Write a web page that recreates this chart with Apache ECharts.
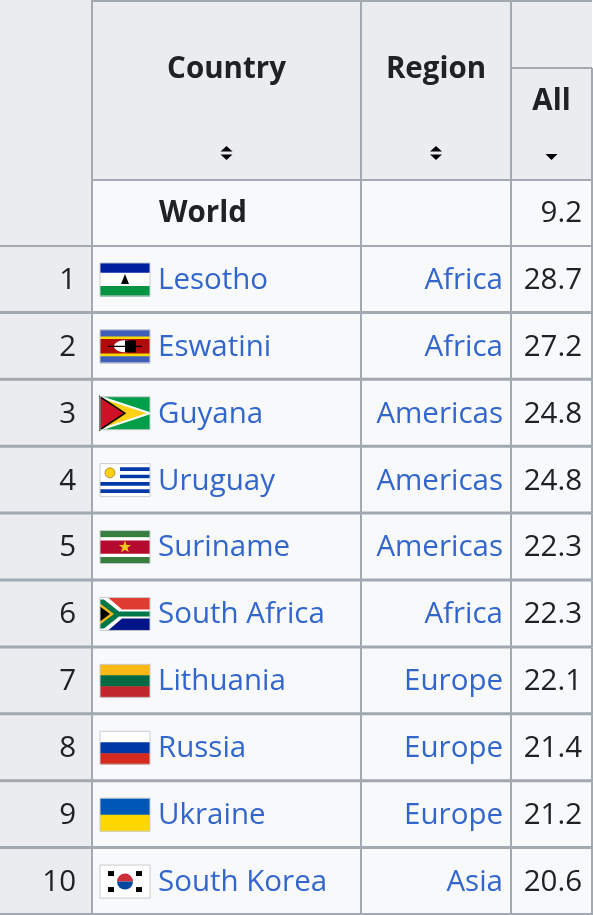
<!DOCTYPE html>
<html><head><meta charset="utf-8">
<script src="https://cdn.jsdelivr.net/npm/echarts@6/dist/echarts.min.js"></script>
<style>html,body{margin:0;padding:0;background:#fff}#c{width:593px;height:915px}</style>
</head><body><div id="c"></div>
<script>
const ranks = [1,2,3,4,5,6,7,8,9,10];
const countries = ['Lesotho','Eswatini','Guyana','Uruguay','Suriname','South Africa','Lithuania','Russia','Ukraine','South Korea'];
const flags = ['ls','sz','gy','uy','sr','za','lt','ru','ua','kr'];
const regions = ['Africa','Africa','Americas','Americas','Americas','Africa','Europe','Europe','Europe','Asia'];
const values = [28.7,27.2,24.8,24.8,22.3,22.3,22.1,21.4,21.2,20.6];
const worldLabel = 'World';
const worldValue = 9.2;
const headers = ['Country','Region','All'];

const FONT = '"Open Sans", "Liberation Sans", Arial, sans-serif';
const BORDER = '#a2a9b1', HEAD = '#eaecf0', CELL = '#f8f9fa', TXT = '#202122', LINK = '#3366cc';
const X = [0, 92, 361, 511, 592];
const HEAD_BOTTOM = 180, WORLD_BOTTOM = 246, ROW_H = 66.9;

function stripes(x, y, w, h, cols, fr) {
  let acc = 0; const out = [];
  cols.forEach((c, i) => {
    const hh = h * fr[i];
    out.push({type:'rect', shape:{x:x, y:y+acc, width:w, height:hh+0.5}, style:{fill:c}});
    acc += hh;
  });
  return out;
}
function flag(code, x, y) {
  const w = 50, h = 33; let ch = [];
  if (code === 'ls') {
    ch = stripes(x,y,w,h,['#00209f','#fff','#009543'],[0.3,0.4,0.3]);
    ch.push({type:'polygon', shape:{points:[[x+25,y+11],[x+21,y+21],[x+29,y+21]]}, style:{fill:'#000'}});
  } else if (code === 'sz') {
    ch = stripes(x,y,w,h,['#3e5eb9','#ffd900','#b10c0c','#ffd900','#3e5eb9'],[0.2,0.08,0.44,0.08,0.2]);
    ch.push({type:'ellipse', shape:{cx:x+25,cy:y+16.5,rx:11,ry:6}, style:{fill:'#fff'}});
    ch.push({type:'rect', shape:{x:x+25,y:y+10.5,width:11,height:12}, style:{fill:'#000'}});
    ch.push({type:'rect', shape:{x:x+8,y:y+16,width:34,height:1.2}, style:{fill:'#000'}});
  } else if (code === 'gy') {
    ch.push({type:'rect', shape:{x,y,width:w,height:h}, style:{fill:'#009e49'}});
    ch.push({type:'polygon', shape:{points:[[x,y],[x+w,y+h/2],[x,y+h]]}, style:{fill:'#fcd116', stroke:'#fff', lineWidth:2}});
    ch.push({type:'polygon', shape:{points:[[x,y],[x+w/2,y+h/2],[x,y+h]]}, style:{fill:'#ce1126', stroke:'#000', lineWidth:1.5}});
  } else if (code === 'uy') {
    const c = [], f = [];
    for (let i = 0; i < 9; i++) { c.push(i % 2 ? '#0038a8' : '#fff'); f.push(1/9); }
    ch = stripes(x,y,w,h,c,f);
    ch.push({type:'rect', shape:{x,y,width:20,height:h*5/9}, style:{fill:'#fff'}});
    ch.push({type:'circle', shape:{cx:x+10,cy:y+h*5/18,r:5}, style:{fill:'#fcd116', stroke:'#7b3f00', lineWidth:0.5}});
  } else if (code === 'sr') {
    ch = stripes(x,y,w,h,['#377e3f','#fff','#b40a2d','#fff','#377e3f'],[0.2,0.1,0.4,0.1,0.2]);
    const pts = [];
    for (let i = 0; i < 10; i++) { const r = i%2?2.6:6.5, a = -Math.PI/2 + i*Math.PI/5; pts.push([x+25+r*Math.cos(a), y+16.5+r*Math.sin(a)]); }
    ch.push({type:'polygon', shape:{points:pts}, style:{fill:'#ecc81d'}});
  } else if (code === 'za') {
    ch = stripes(x,y,w,h,['#e03c31','#001489'],[0.5,0.5]);
    ch.push({type:'polygon', shape:{points:[[x,y],[x+8,y],[x+22,y+12],[x+w,y+12],[x+w,y+21],[x+22,y+21],[x+8,y+h],[x,y+h]]}, style:{fill:'#fff'}});
    ch.push({type:'polygon', shape:{points:[[x,y+2],[x+4,y+2],[x+19,y+14],[x+w,y+14],[x+w,y+19],[x+19,y+19],[x+4,y+h-2],[x,y+h-2]]}, style:{fill:'#007749'}});
    ch.push({type:'polygon', shape:{points:[[x,y+6],[x+14,y+16.5],[x,y+27]]}, style:{fill:'#ffb81c'}});
    ch.push({type:'polygon', shape:{points:[[x,y+9],[x+10,y+16.5],[x,y+24]]}, style:{fill:'#000'}});
  } else if (code === 'lt') {
    ch = stripes(x,y,w,h,['#fdb913','#006a44','#c1272d'],[1/3,1/3,1/3]);
  } else if (code === 'ru') {
    ch = stripes(x,y,w,h,['#fff','#0039a6','#d52b1e'],[1/3,1/3,1/3]);
  } else if (code === 'ua') {
    ch = stripes(x,y,w,h,['#0057b7','#ffd700'],[0.5,0.5]);
  } else if (code === 'kr') {
    ch.push({type:'rect', shape:{x,y,width:w,height:h}, style:{fill:'#fff'}});
    ch.push({type:'sector', shape:{cx:x+25,cy:y+16.5,r0:0,r:8,startAngle:Math.PI,endAngle:2*Math.PI}, style:{fill:'#cd2e3a'}});
    ch.push({type:'sector', shape:{cx:x+25,cy:y+16.5,r0:0,r:8,startAngle:0,endAngle:Math.PI}, style:{fill:'#0047a0'}});
    [[x+8,y+6],[x+36,y+6],[x+8,y+22],[x+36,y+22]].forEach(p => ch.push({type:'rect', shape:{x:p[0],y:p[1],width:6,height:5}, style:{fill:'#000'}}));
  }
  ch.push({type:'rect', shape:{x,y,width:w,height:h}, style:{fill:'none', stroke:'#c8ccd1', lineWidth:1}});
  return ch;
}
function txt(t, x, y, align, color, bold) {
  return {type:'text', style:{text:t, x, y, align, verticalAlign:'middle', fill:color, font:(bold?'bold ':'')+'29.5px '+FONT}};
}
function line(x1,y1,x2,y2){return {type:'line', shape:{x1,y1,x2,y2}, style:{stroke:BORDER, lineWidth:2}};}
function dblArrow(cx, cy){return [
  {type:'polygon', shape:{points:[[cx-6,cy-1.5],[cx+6,cy-1.5],[cx,cy-7]]}, style:{fill:'#000'}},
  {type:'polygon', shape:{points:[[cx-6,cy+1.5],[cx+6,cy+1.5],[cx,cy+7]]}, style:{fill:'#000'}}];}

const chart = echarts.init(document.getElementById('c'));
const rowsData = ranks.map((r, i) => [i, r]);
chart.setOption({
  animation:false,
  grid:{left:0,right:0,top:0,bottom:0},
  xAxis:{type:'value', min:0, max:593, show:false},
  yAxis:{type:'value', min:0, max:915, inverse:true, show:false},
  series:[
    {type:'custom', silent:true, data:[[0]], renderItem:(p, api) => {
      const c = [];
      const [x0] = api.coord([X[0],0]);
      const x1 = api.coord([X[1],0])[0], x2 = api.coord([X[2],0])[0], x3 = api.coord([X[3],0])[0], x4 = api.coord([X[4],0])[0];
      const hb = api.coord([0,HEAD_BOTTOM])[1], wb = api.coord([0,WORLD_BOTTOM])[1];
      c.push({type:'rect', shape:{x:x0,y:0,width:x1-x0,height:wb}, style:{fill:HEAD}});
      c.push({type:'rect', shape:{x:x1,y:0,width:x4-x1,height:hb}, style:{fill:HEAD}});
      c.push({type:'rect', shape:{x:x1,y:hb,width:x4-x1,height:wb-hb}, style:{fill:CELL}});
      c.push(line(x1,1,x4,1), line(x1,0,x1,wb), line(x2,0,x2,wb), line(x3,0,x3,wb), line(x4,68,x4,wb));
      c.push(line(x3,68,x4,68), line(x1,hb,x4,hb));
      c.push(txt(headers[0], (x1+x2)/2, 70, 'center', TXT, true));
      c.push(txt(headers[1], (x2+x3)/2, 70, 'center', TXT, true));
      c.push(txt(headers[2], (x3+x4)/2, 102, 'center', TXT, true));
      c.push(...dblArrow((x1+x2)/2, 153), ...dblArrow((x2+x3)/2, 153));
      c.push({type:'polygon', shape:{points:[[(x3+x4)/2-6,154],[(x3+x4)/2+6,154],[(x3+x4)/2,160]]}, style:{fill:'#000'}});
      c.push(txt(worldLabel, 203, (hb+wb)/2 + 1, 'center', TXT, true));
      c.push(txt(String(worldValue), 582, (hb+wb)/2 + 1, 'right', TXT, false));
      return {type:'group', children:c};
    }},
    {type:'custom', silent:true, data:rowsData, renderItem:(p, api) => {
      const i = api.value(0);
      const top = api.coord([0, WORLD_BOTTOM + i*ROW_H])[1];
      const bot = api.coord([0, WORLD_BOTTOM + (i+1)*ROW_H])[1];
      const x = X.map(v => api.coord([v,0])[0]);
      const mid = (top+bot)/2;
      const c = [
        {type:'rect', shape:{x:x[0],y:top,width:x[1]-x[0],height:bot-top}, style:{fill:HEAD}},
        {type:'rect', shape:{x:x[1],y:top,width:x[4]-x[1],height:bot-top}, style:{fill:CELL}},
        line(x[0],top,x[4],top), line(x[0],bot-1,x[4],bot-1),
        line(x[1],top,x[1],bot), line(x[2],top,x[2],bot), line(x[3],top,x[3],bot), line(x[4],top,x[4],bot)
      ];
      c.push(...flag(flags[i], 100, mid-16.5));
      c.push(txt(String(api.value(1)), 76, mid+1, 'right', TXT, false));
      c.push(txt(countries[i], 158, mid+1, 'left', LINK, false));
      c.push(txt(regions[i], 503, mid+1, 'right', LINK, false));
      c.push(txt(values[i].toFixed(1), 582, mid+1, 'right', TXT, false));
      return {type:'group', children:c};
    }}
  ]
});
</script></body></html>
